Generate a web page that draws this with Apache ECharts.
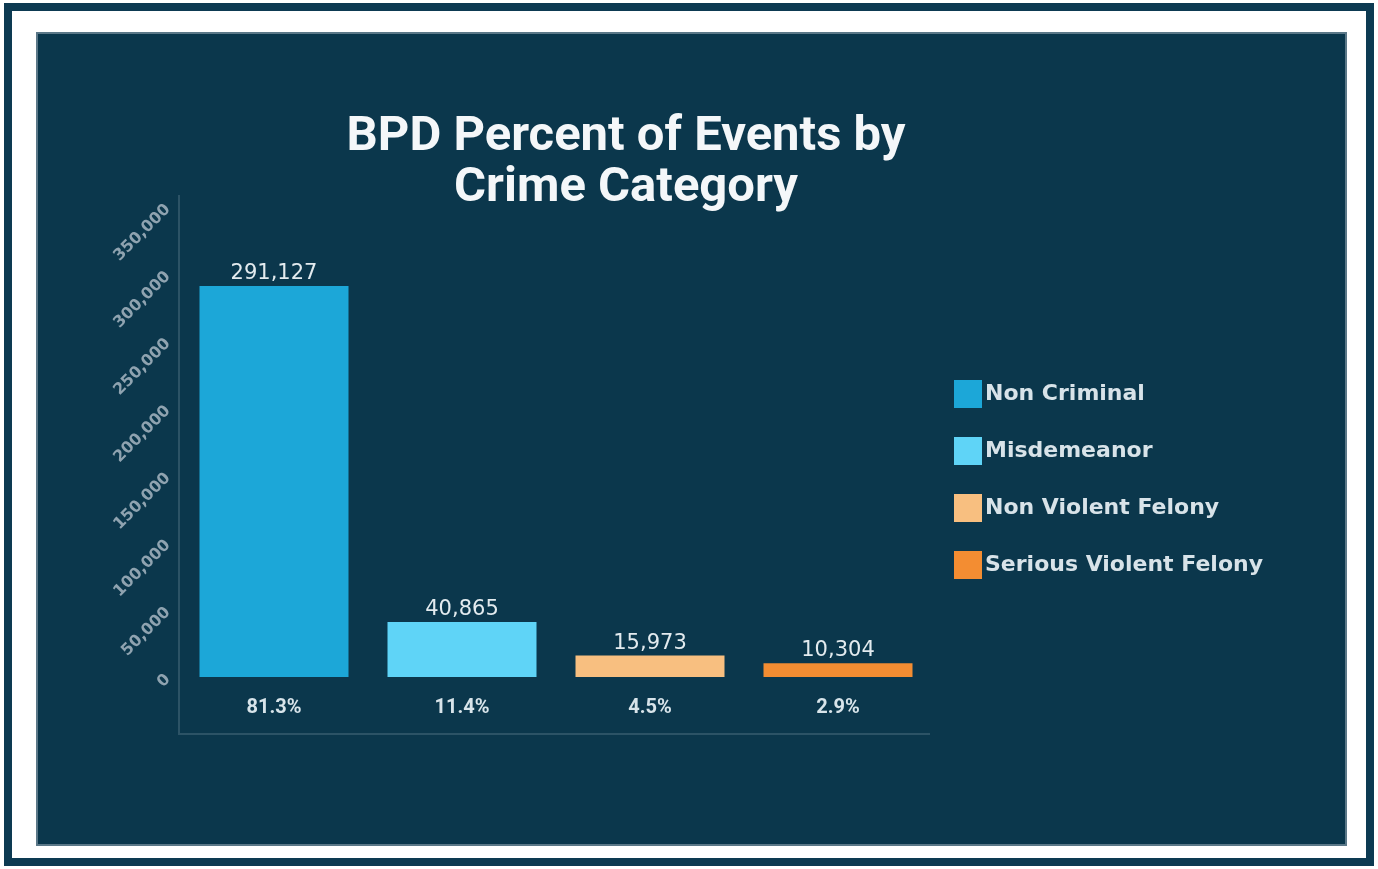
<!DOCTYPE html>
<html>
<head>
<meta charset="utf-8">
<script src="https://cdn.jsdelivr.net/npm/echarts@6/dist/echarts.min.js"></script>
<style>
html,body{margin:0;padding:0;background:#ffffff;}
#chart{width:1378px;height:869px;}
</style>
</head>
<body>
<div id="chart"></div>
<script>
const categories = ['Non Criminal', 'Misdemeanor', 'Non Violent Felony', 'Serious Violent Felony'];
const percentLabels = ['81.3%', '11.4%', '4.5%', '2.9%'];
const counts = [291127, 40865, 15973, 10304];
const colors = ['#1ca7d8', '#5fd4f7', '#f8bf80', '#f38d32'];
const yTicks = [0, 50000, 100000, 150000, 200000, 250000, 300000, 350000];

const chart = echarts.init(document.getElementById('chart'));
const fmt = v => Number(v).toLocaleString('en-US');

const series = categories.map((name, i) => ({
  name: name,
  type: 'bar',
  stack: 'total',
  barWidth: 149,
  itemStyle: { color: colors[i] },
  label: {
    show: true,
    position: 'top',
    distance: 2,
    color: '#e3ebef',
    fontSize: 21,
    fontFamily: 'DejaVu Sans',
    formatter: p => fmt(p.value)
  },
  data: counts.map((v, j) => (j === i ? v : '-'))
}));

chart.setOption({
  backgroundColor: '#ffffff',
  animation: false,
  graphic: [
    { type: 'rect', z: -10, shape: { x: 8, y: 7, width: 1362, height: 855 },
      style: { fill: '#ffffff', stroke: '#0d3a52', lineWidth: 8 } },
    { type: 'rect', z: -9, shape: { x: 37, y: 33, width: 1309, height: 812 },
      style: { fill: '#0b374c', stroke: '#5b7888', lineWidth: 2 } },
    { type: 'polyline', z: -8, shape: { points: [[179, 195], [179, 734], [930, 734]] },
      style: { stroke: '#2c5366', lineWidth: 2, fill: null } }
  ],
  title: {
    text: 'BPD Percent of Events by\nCrime Category',
    left: 621,
    top: 107,
    textAlign: 'center',
    textStyle: {
      color: '#f4f7f9',
      fontSize: 49,
      fontWeight: 'bold',
      fontFamily: 'Roboto',
      lineHeight: 51
    }
  },
  legend: {
    orient: 'vertical',
    left: 949,
    top: 375,
    itemWidth: 28,
    itemHeight: 28,
    itemGap: 29,
    icon: 'rect',
    data: categories,
    textStyle: { color: '#d8e3e9', fontSize: 22, fontWeight: 'bold', fontFamily: 'DejaVu Sans', padding: [0, 0, 0, -2] }
  },
  grid: { left: 180, right: 446, top: 207, bottom: 192, containLabel: false },
  xAxis: {
    type: 'category',
    data: percentLabels,
    axisLine: { show: false },
    axisTick: { show: false },
    axisLabel: { color: '#d8e4ea', fontSize: 20, fontWeight: 'bold', margin: 21, fontFamily: 'Roboto' }
  },
  yAxis: {
    type: 'value',
    min: yTicks[0],
    max: yTicks[yTicks.length - 1],
    interval: 50000,
    axisLine: { show: false },
    axisTick: { show: false },
    splitLine: { show: false },
    axisLabel: {
      rotate: 45,
      margin: 12,
      color: '#8fa3b0',
      fontSize: 16,
      fontWeight: 'bold',
      fontFamily: 'DejaVu Sans',
      formatter: v => fmt(v)
    }
  },
  series: series
});
</script>
</body>
</html>
